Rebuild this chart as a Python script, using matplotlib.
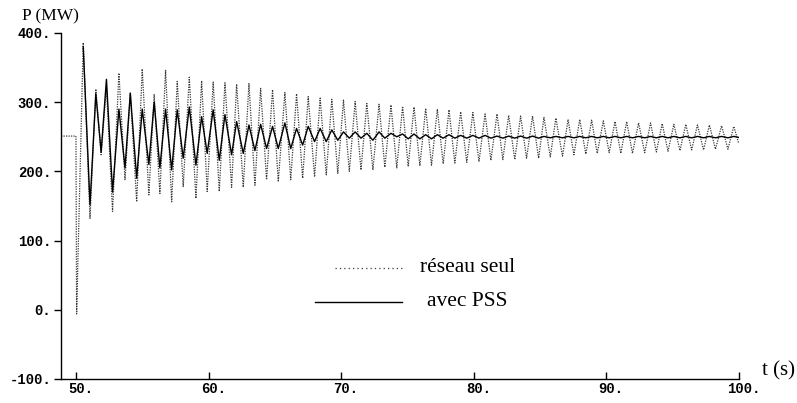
import matplotlib
matplotlib.use("Agg")
import matplotlib.pyplot as plt
import matplotlib.transforms as mtransforms

# extrema (time in s)
t_ext = [
    48.87, 50.0, 50.05, 50.55, 51.06, 51.5, 51.9, 52.3, 52.76, 53.24,
    53.7, 54.1, 54.58, 55.0, 55.5, 55.9, 56.33, 56.76, 57.22, 57.64,
    58.09, 58.55, 59.05, 59.48, 59.9, 60.35, 60.81, 61.24, 61.74, 62.12,
    62.62, 63.05, 63.5, 63.93, 64.38, 64.83, 65.26, 65.76, 66.2, 66.64,
    67.1, 67.52, 68.0, 68.42, 68.88, 69.3, 69.75, 70.18, 70.62, 71.06,
    71.5, 71.94, 72.4, 72.86, 73.3, 73.76, 74.2, 74.64, 75.06, 75.5,
    75.94, 76.38, 76.82, 77.26, 77.7, 78.14, 78.58, 79.02, 79.48, 79.94,
    80.4, 80.86, 81.3, 81.76, 82.2, 82.64, 83.1, 83.54, 83.99, 84.44,
    84.9, 85.3, 85.78, 86.2, 86.7, 87.12, 87.56, 88.0, 88.46, 88.9,
    89.32, 89.78, 90.22, 90.66, 91.1, 91.54, 91.98, 92.44, 92.9, 93.34,
    93.78, 94.22, 94.66, 95.1, 95.56, 96.0, 96.44, 96.88, 97.34, 97.78,
    98.24, 98.7, 99.18, 99.62, 100.0,
]

# "réseau seul" (dotted)
p_seul = [
    251, 251, -6, 386, 132, 319, 224, 322, 142, 342,
    188, 313, 156, 348, 166, 311, 168, 346, 156, 330,
    178, 336, 161, 331, 171, 329, 171, 328, 177, 326,
    177, 327, 180, 320, 188, 318, 185, 314, 188, 312,
    190, 308, 192, 306, 195, 304, 197, 303, 200, 301,
    202, 298, 202, 297, 206, 296, 205, 294, 207, 293,
    208, 291, 209, 290, 211, 289, 212, 286, 213, 285,
    214, 283, 216, 283, 217, 281, 217, 280, 219, 280,
    219, 278, 221, 277, 222, 275, 224, 275, 225, 274,
    226, 273, 227, 272, 226, 272, 226, 270, 227, 270,
    228, 269, 229, 268, 230, 268, 231, 267, 231, 267,
    232, 266, 232, 265, 240,
]

# "avec PSS" (solid), starts at the first peak
p_pss = [
    380, 152, 312, 228, 333, 170, 290,
    205, 313, 190, 290, 210, 300, 205, 290, 202, 289,
    219, 293, 209, 279, 226, 289, 216, 282, 224, 272,
    226, 267, 230, 268, 233, 265, 233, 270, 233, 262,
    238, 265, 243, 262, 243, 260, 245, 257, 248, 257,
    248, 255, 245, 257, 248, 255, 250, 254, 247, 254,
    247, 253, 247, 253, 248, 253, 248, 252, 248, 252,
    248, 252, 248, 251, 248, 251, 248, 251, 248, 251,
    248, 250.5, 248.5, 250.5, 248.5, 250.5, 248.5, 250.5, 248.5, 250.5,
    248.5, 250.5, 248.5, 250.5, 248.5, 250.5, 248.5, 250.5, 248.5, 250.5,
    248.5, 250.5, 248.5, 250.5, 248.5, 250.5, 248.5, 250.5, 248.5, 250.5,
    248.5, 250.5, 248.5, 250.5, 249,
]

x_ticks = [50, 60, 70, 80, 90, 100]
y_ticks = [-100, 0, 100, 200, 300, 400]

fig = plt.figure(figsize=(7.97, 4.03), dpi=100)
ax = fig.add_axes([0.0765, 0.0596, 0.8505, 0.8586])

ax.plot(t_ext, p_seul, color="#3a3a3a", lw=0.9, linestyle=(0, (1, 1)),
        solid_joinstyle="round")
ax.plot(t_ext[len(t_ext) - len(p_pss):], p_pss, color="black", lw=1.0,
        solid_joinstyle="round")

ax.set_xlim(48.87, 100)
ax.set_ylim(-100, 400)
for s in ("top", "right"):
    ax.spines[s].set_visible(False)
for s in ("left", "bottom"):
    ax.spines[s].set_linewidth(1.0)

mono = dict(family="Liberation Mono", size=10, weight="bold")
ax.set_xticks(x_ticks)
ax.set_xticklabels([f"{v}." for v in x_ticks], fontdict=mono)
ax.set_yticks(y_ticks)
ax.set_yticklabels([f"{v}." for v in y_ticks], fontdict=mono)
ax.tick_params(axis="x", direction="in", length=5, width=1, pad=2)
ax.tick_params(axis="y", direction="out", length=5, width=1, pad=2)
shift = mtransforms.ScaledTranslation(5 / 100, 0, fig.dpi_scale_trans)
for lab in ax.get_xticklabels():
    lab.set_transform(lab.get_transform() + shift)

# legend drawn by hand, like the original figure
ax.plot([0.404, 0.503], [0.321, 0.321], transform=ax.transAxes,
        color="#3a3a3a", lw=0.9, linestyle=(0, (1, 2.5)))
ax.plot([0.375, 0.503], [0.2225, 0.2225], transform=ax.transAxes,
        color="black", lw=1.0)
ax.text(0.53, 0.321, "réseau seul", transform=ax.transAxes,
        family="Liberation Serif", size=15.5, va="center")
ax.text(0.54, 0.2225, "avec PSS", transform=ax.transAxes,
        family="Liberation Serif", size=15.5, va="center")

fig.text(22 / 797, 1 - 16 / 403, "P (MW)", family="Liberation Serif",
         size=12.5, va="center")
fig.text(762 / 797, 1 - 371 / 403, "t (s)", family="Liberation Serif",
         size=15, va="center")

plt.savefig("out.png", dpi=100)
